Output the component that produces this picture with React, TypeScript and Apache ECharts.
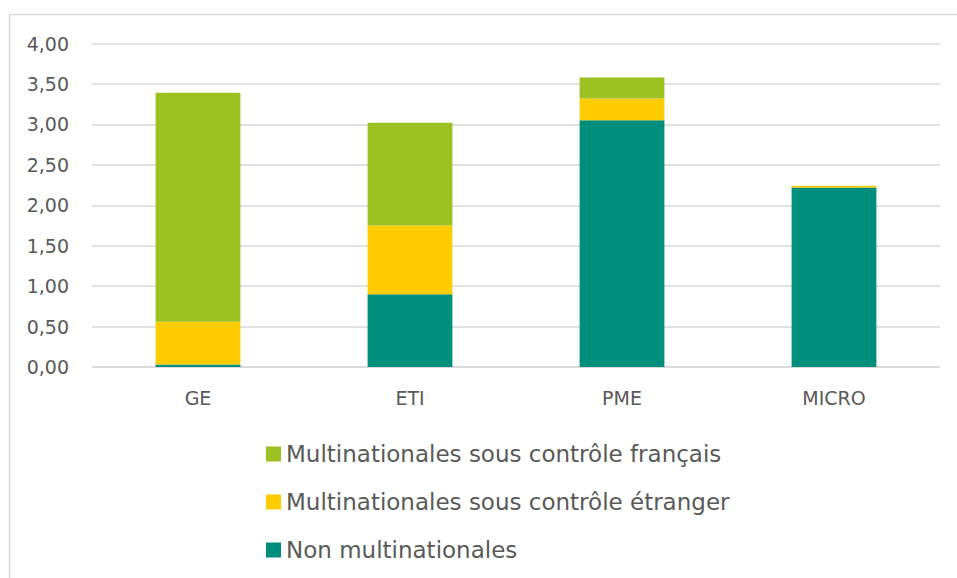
import React, { useEffect, useRef } from "react";
import * as echarts from "echarts";

const categories = ["GE", "ETI", "PME", "MICRO"];
const nonMultinationales = [0.03, 0.9, 3.05, 2.22];
const sousControleEtranger = [0.53, 0.85, 0.27, 0.02];
const sousControleFrancais = [2.83, 1.27, 0.26, 0.0];
const seriesNames = [
  "Multinationales sous contrôle français",
  "Multinationales sous contrôle étranger",
  "Non multinationales",
];
const colors = ["#9BC122", "#FFCC00", "#008F7D"];

export default function App() {
  const ref = useRef<HTMLDivElement>(null);
  useEffect(() => {
    if (!ref.current) return;
    const chart = echarts.init(ref.current, null, { renderer: "svg" });
    const font = "'DejaVu Sans', sans-serif";
    chart.setOption({
      animation: false,
      textStyle: { fontFamily: font },
      graphic: [
        {
          type: "rect",
          shape: { x: 9.5, y: 14.5, width: 2000, height: 2000 },
          style: { fill: "none", stroke: "#d9d9d9", lineWidth: 1.5 },
          silent: true,
        },
      ],
      grid: { left: 92, right: 17, top: 43.5, bottom: 211 },
      legend: {
        orient: "vertical",
        left: 261,
        top: 436,
        itemWidth: 15,
        itemHeight: 15,
        itemGap: 22,
        icon: "rect",
        data: seriesNames,
        textStyle: { fontSize: 23, color: "#595959", fontFamily: font, lineHeight: 26 },
      },
      xAxis: {
        type: "category",
        data: categories,
        axisTick: { show: false },
        axisLine: { lineStyle: { color: "#d9d9d9", width: 1.5 } },
        axisLabel: { fontSize: 19, color: "#595959", margin: 21, fontFamily: font },
      },
      yAxis: {
        type: "value",
        min: 0,
        max: 4,
        interval: 0.5,
        axisLabel: {
          fontSize: 19,
          color: "#595959",
          margin: 23,
          fontFamily: font,
          formatter: (v: number) => v.toFixed(2).replace(".", ","),
        },
        splitLine: { lineStyle: { color: "#d9d9d9", width: 1.5 } },
      },
      series: [
        {
          name: seriesNames[2],
          type: "bar",
          stack: "total",
          data: nonMultinationales,
          itemStyle: { color: colors[2] },
          barCategoryGap: "60%",
        },
        {
          name: seriesNames[1],
          type: "bar",
          stack: "total",
          data: sousControleEtranger,
          itemStyle: { color: colors[1] },
        },
        {
          name: seriesNames[0],
          type: "bar",
          stack: "total",
          data: sousControleFrancais,
          itemStyle: { color: colors[0] },
        },
      ],
    });
    return () => chart.dispose();
  }, []);
  return (
    <div
      ref={ref}
      style={{ position: "fixed", left: 0, top: 0, width: 957, height: 578, background: "#fff" }}
    />
  );
}
